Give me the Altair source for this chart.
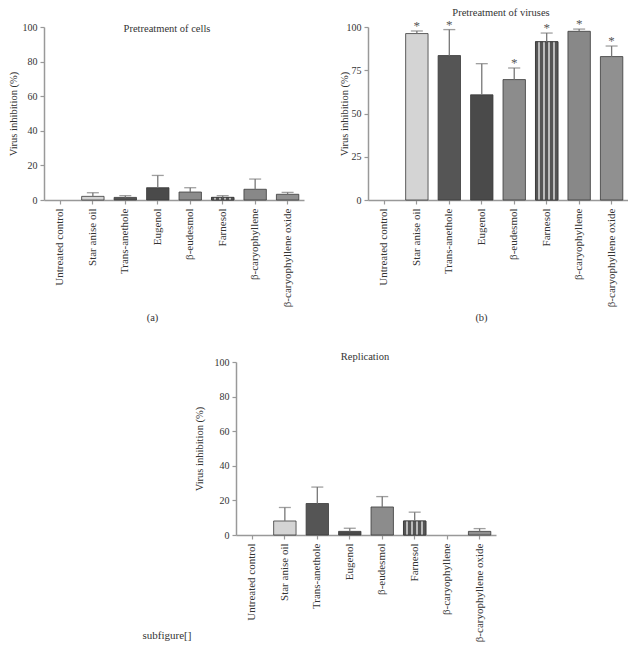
import altair as alt
import pandas as pd

categories = ["Untreated control", "Star anise oil", "Trans-anethole", "Eugenol",
              "β-eudesmol", "Farnesol", "β-caryophyllene", "β-caryophyllene oxide"]

cells_mean = [0, 2.1, 1.5, 7.1, 4.6, 1.5, 6.2, 3.3]
cells_err = [0, 2.1, 1.0, 7.1, 2.5, 1.0, 5.9, 1.1]

virus_mean = [0, 96.2, 83.5, 60.8, 69.6, 91.5, 97.5, 82.9]
virus_err = [0, 1.5, 15.0, 18.0, 6.7, 5.0, 1.3, 6.1]
virus_sig = ["", "*", "*", "", "*", "*", "*", "*"]

repl_mean = [0, 8.1, 18.2, 2.1, 16.2, 8.1, 0, 2.1]
repl_err = [0, 7.8, 9.5, 1.8, 6.0, 5.1, 0, 1.6]

ticks_20 = [0, 20, 40, 60, 80, 100]
ticks_25 = [0, 25, 50, 75, 100]

bar_colors = ["#ffffff", "#d4d4d4", "#555555", "#4a4a4a", "#8c8c8c", "#7a7a7a", "#888888", "#909090"]

FONT = "Liberation Serif"
W, H = 260, 173

farnesol_fill = alt.Gradient(
    gradient="linear", x1=0, x2=1, y1=0, y2=0,
    stops=[alt.GradientStop(color=c, offset=o) for c, o in [
        ("#555555", 0.0), ("#555555", 0.12), ("#bbbbbb", 0.12), ("#bbbbbb", 0.2),
        ("#555555", 0.2), ("#555555", 0.34), ("#bbbbbb", 0.34), ("#bbbbbb", 0.42),
        ("#555555", 0.42), ("#555555", 0.56), ("#bbbbbb", 0.56), ("#bbbbbb", 0.64),
        ("#555555", 0.64), ("#555555", 0.78), ("#bbbbbb", 0.78), ("#bbbbbb", 0.86),
        ("#555555", 0.86), ("#555555", 1.0)]])


def panel(means, errs, sig, yticks, title_text, title_x, title_y, xtitle, xtitle_x, ytitle_x):
    df = pd.DataFrame({"cat": categories, "mean": means, "err": errs,
                       "sig": sig if sig else [""] * len(categories)})
    df["upper"] = df["mean"] + df["err"]
    xaxis = alt.Axis(labelAngle=-90, labelPadding=4, tickSize=4, labelFontSize=11,
                     title=xtitle if xtitle else "", titleX=xtitle_x, titleY=112,
                     titleFontWeight="normal")
    x = alt.X("cat:N", sort=categories, axis=xaxis,
              scale=alt.Scale(domain=categories, paddingInner=0.31, paddingOuter=0.16))
    yaxis = alt.Axis(values=yticks, tickCount=len(yticks), tickSize=4, labelPadding=3,
                     labelOverlap=False, labelBound=False, labelFlush=False,
                     title="Virus inhibition (%)", titleX=ytitle_x, titleY=H / 2,
                     titleFontWeight="normal")
    yscale = alt.Scale(domain=[0, 100], nice=False, zero=True)
    y = alt.Y("mean:Q", scale=yscale, axis=yaxis)
    yup = alt.Y("upper:Q", scale=yscale, axis=yaxis)
    base = alt.Chart(df)
    bars = base.transform_filter(alt.datum.mean > 0).mark_bar(
        stroke="#3a3a3a", strokeWidth=0.8).encode(
        x=x, y=y,
        color=alt.Color("cat:N", sort=categories,
                        scale=alt.Scale(domain=categories, range=bar_colors), legend=None))
    farn = base.transform_filter((alt.datum.cat == "Farnesol") & (alt.datum.mean > 0)).mark_bar(
        fill=farnesol_fill, stroke="#3a3a3a", strokeWidth=0.8).encode(x=x, y=y)
    err = base.transform_filter(alt.datum.err > 0)
    rule = err.mark_rule(color="#777777", strokeWidth=1.3).encode(
        x=x, y=y, y2="upper:Q")
    cap = err.mark_tick(color="#777777", size=12, thickness=1.3).encode(x=x, y=yup)
    layers = [bars, farn, rule, cap]
    if sig:
        star = base.transform_filter(alt.datum.sig != "").mark_text(
            font=FONT, fontSize=13, color="#555555", baseline="alphabetic", dy=-1).encode(
            x=x, y=yup, text="sig:N")
        layers.append(star)
    ttl = alt.Chart(pd.DataFrame({"t": [title_text]})).mark_text(
        font=FONT, fontSize=10.5, color="#333333", baseline="middle").encode(
        text="t:N", x=alt.value(title_x), y=alt.value(title_y))
    layers.append(ttl)
    return alt.layer(*layers).properties(width=W, height=H)


pa = panel(cells_mean, cells_err, None, ticks_20, "Pretreatment of cells", 123, 2, "(a)", 108, -26)
pb = panel(virus_mean, virus_err, virus_sig, ticks_25, "Pretreatment of viruses", 133, -14, "(b)", 113, -18.5)
pc = panel(repl_mean, repl_err, None, ticks_20, "Replication", 129, -5, None, 130, -31.5)

spacer = alt.Chart(pd.DataFrame({"t": ["subfigure[]"]})).mark_text(
    font=FONT, fontSize=11, color="#333333", baseline="middle").encode(
    text="t:N", x=alt.value(123), y=alt.value(274)).properties(width=150, height=H)

top = alt.hconcat(pa, pb, spacing=64, bounds="flush")
bottom = alt.hconcat(spacer, pc, spacing=42, bounds="flush")

chart = alt.vconcat(top, bottom, spacing=335, bounds="flush").properties(
    padding=0
).configure_view(stroke=None).configure_axis(
    grid=False, domainColor="#999999", domainWidth=1.5, tickColor="#999999", tickWidth=1.2,
    labelFont=FONT, labelFontSize=10, labelColor="#333333", labelOverlap=False,
    titleFont=FONT, titleFontSize=10.5, titleColor="#333333"
)

chart.save("out.html", embed_options={"renderer": "svg", "actions": False})
